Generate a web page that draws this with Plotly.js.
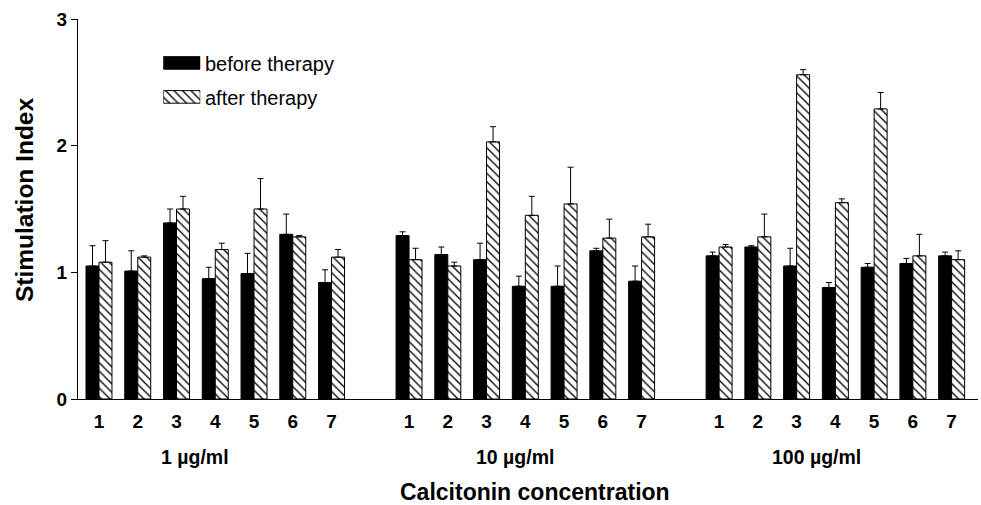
<!DOCTYPE html>
<html>
<head>
<meta charset="utf-8">
<script src="https://cdn.plot.ly/plotly-3.0.1.min.js"></script>
<style>html,body{margin:0;padding:0;background:#fff;}#chart{width:981px;height:505px;}</style>
</head>
<body>
<div id="chart"></div>
<script>
// ---- data ----
const patients = ['1', '2', '3', '4', '5', '6', '7'];
const concentrations = ['1 µg/ml', '10 µg/ml', '100 µg/ml'];
const seriesNames = ['before therapy', 'after therapy'];

const before_1 = [1.05, 1.01, 1.39, 0.95, 0.99, 1.30, 0.92];
const beforeErr_1 = [0.16, 0.16, 0.11, 0.09, 0.16, 0.16, 0.10];
const after_1 = [1.08, 1.12, 1.50, 1.18, 1.50, 1.28, 1.12];
const afterErr_1 = [0.17, 0.01, 0.10, 0.05, 0.24, 0.01, 0.06];

const before_10 = [1.29, 1.14, 1.10, 0.89, 0.89, 1.17, 0.93];
const beforeErr_10 = [0.03, 0.06, 0.13, 0.08, 0.16, 0.02, 0.12];
const after_10 = [1.10, 1.05, 2.03, 1.45, 1.54, 1.27, 1.28];
const afterErr_10 = [0.09, 0.03, 0.12, 0.15, 0.29, 0.15, 0.10];

const before_100 = [1.13, 1.20, 1.05, 0.88, 1.04, 1.07, 1.13];
const beforeErr_100 = [0.03, 0.01, 0.14, 0.04, 0.03, 0.04, 0.03];
const after_100 = [1.20, 1.28, 2.56, 1.55, 2.29, 1.13, 1.10];
const afterErr_100 = [0.02, 0.18, 0.04, 0.03, 0.13, 0.17, 0.07];

// ---- build ----
const beforeAll = [before_1, before_10, before_100];
const beforeErrAll = [beforeErr_1, beforeErr_10, beforeErr_100];
const afterAll = [after_1, after_10, after_100];
const afterErrAll = [afterErr_1, afterErr_10, afterErr_100];

const GROUP_STEP = 8;
const xs = [], tickText = [], yB = [], eB = [], yA = [], eA = [];
concentrations.forEach((c, g) => {
  patients.forEach((p, i) => {
    xs.push(g * GROUP_STEP + i);
    tickText.push(p);
    yB.push(beforeAll[g][i]); eB.push(beforeErrAll[g][i]);
    yA.push(afterAll[g][i]); eA.push(afterErrAll[g][i]);
  });
});
const zeros = xs.map(() => 0);

// pixel geometry helpers
const PL = 77.7, PR = 978, PT = 19, PB = 399.5;
const W = 981, H = 505;
const px2x = px => (px - PL) / (PR - PL);
const py2y = py => (PB - py) / (PB - PT);
const X0PX = 98.7, XUNIT = 38.77;
const pxToData = px => (px - X0PX) / XUNIT;

const boldFont = "'Liberation Sans', Arial, sans-serif";
const regFont = "'Liberation Sans', Arial, sans-serif";

const hatch = {shape: '\\', fgcolor: '#000', bgcolor: '#fff', size: 6, solidity: 0.22};

const traces = [
  {
    type: 'bar', x: xs, y: yB, name: seriesNames[0],
    marker: {color: '#000', line: {color: '#000', width: 1}},
    error_y: {type: 'data', symmetric: false, array: eB, arrayminus: zeros, color: '#000', thickness: 1, width: 3},
    showlegend: false, hoverinfo: 'y'
  },
  {
    type: 'bar', x: xs, y: yA, name: seriesNames[1],
    marker: {color: '#fff', pattern: hatch, line: {color: '#000', width: 1}},
    error_y: {type: 'data', symmetric: false, array: eA, arrayminus: zeros, color: '#000', thickness: 1, width: 3},
    showlegend: false, hoverinfo: 'y'
  },
  // legend swatches
  {
    type: 'bar', orientation: 'h', x: [1], y: [1], width: 0.37, offset: -0.185,
    xaxis: 'x2', yaxis: 'y2', hoverinfo: 'skip', showlegend: false,
    marker: {color: '#000', line: {color: '#000', width: 1}}
  },
  {
    type: 'bar', orientation: 'h', x: [1], y: [0], width: 0.37, offset: -0.185,
    xaxis: 'x2', yaxis: 'y2', hoverinfo: 'skip', showlegend: false,
    marker: {color: '#fff', pattern: hatch, line: {color: '#000', width: 1}}
  }
];

const groupLabelPx = [195, 515, 816];
const annotations = [];
concentrations.forEach((c, g) => {
  annotations.push({
    text: c, xref: 'x', yref: 'paper', x: pxToData(groupLabelPx[g]), y: py2y(458),
    xanchor: 'center', yanchor: 'middle', showarrow: false,
    font: {family: boldFont, size: 19.5, color: '#000', weight: 'bold'}
  });
});
annotations.push({
  text: 'Calcitonin concentration', xref: 'paper', yref: 'paper',
  x: px2x(535), y: py2y(493), xanchor: 'center', yanchor: 'middle', showarrow: false,
  font: {family: boldFont, size: 23, color: '#000', weight: 'bold'}
});
annotations.push({
  text: 'Stimulation Index', xref: 'paper', yref: 'paper', textangle: -90,
  x: px2x(24), y: py2y(200), xanchor: 'center', yanchor: 'middle', showarrow: false,
  font: {family: boldFont, size: 24.5, color: '#000', weight: 'bold'}
});
annotations.push({
  text: seriesNames[0], xref: 'paper', yref: 'paper', x: px2x(203), y: py2y(63.8),
  xanchor: 'left', yanchor: 'middle', showarrow: false,
  font: {family: regFont, size: 20, color: '#000'}
});
annotations.push({
  text: seriesNames[1], xref: 'paper', yref: 'paper', x: px2x(203), y: py2y(98),
  xanchor: 'left', yanchor: 'middle', showarrow: false,
  font: {family: regFont, size: 20, color: '#000'}
});

const layout = {
  width: W, height: H,
  margin: {l: PL, r: W - PR, t: PT, b: H - PB, pad: 0},
  paper_bgcolor: '#fff', plot_bgcolor: '#fff',
  barmode: 'group', bargap: 0.33, bargroupgap: 0,
  showlegend: false,
  xaxis: {
    range: [pxToData(PL), pxToData(PR)],
    tickvals: xs, ticktext: tickText, ticks: '', ticklabelstandoff: 5,
    showgrid: false, zeroline: false, showline: true, linecolor: '#000', linewidth: 1,
    tickfont: {family: boldFont, size: 19, color: '#000', weight: 'bold'}
  },
  yaxis: {
    range: [0, 3], tickvals: [0, 1, 2, 3], ticks: 'outside', ticklen: 6, tickwidth: 1, tickcolor: '#000',
    showgrid: false, zeroline: false, showline: true, linecolor: '#000', linewidth: 1,
    tickfont: {family: boldFont, size: 19, color: '#000', weight: 'bold'}
  },
  xaxis2: {domain: [px2x(163), px2x(200)], range: [0, 1], anchor: 'y2', visible: false, fixedrange: true},
  yaxis2: {domain: [py2y(114), py2y(46)], range: [-0.5, 1.5], anchor: 'x2', visible: false, fixedrange: true},
  annotations: annotations
};

Plotly.newPlot('chart', traces, layout, {displayModeBar: false, staticPlot: true});
</script>
</body>
</html>
